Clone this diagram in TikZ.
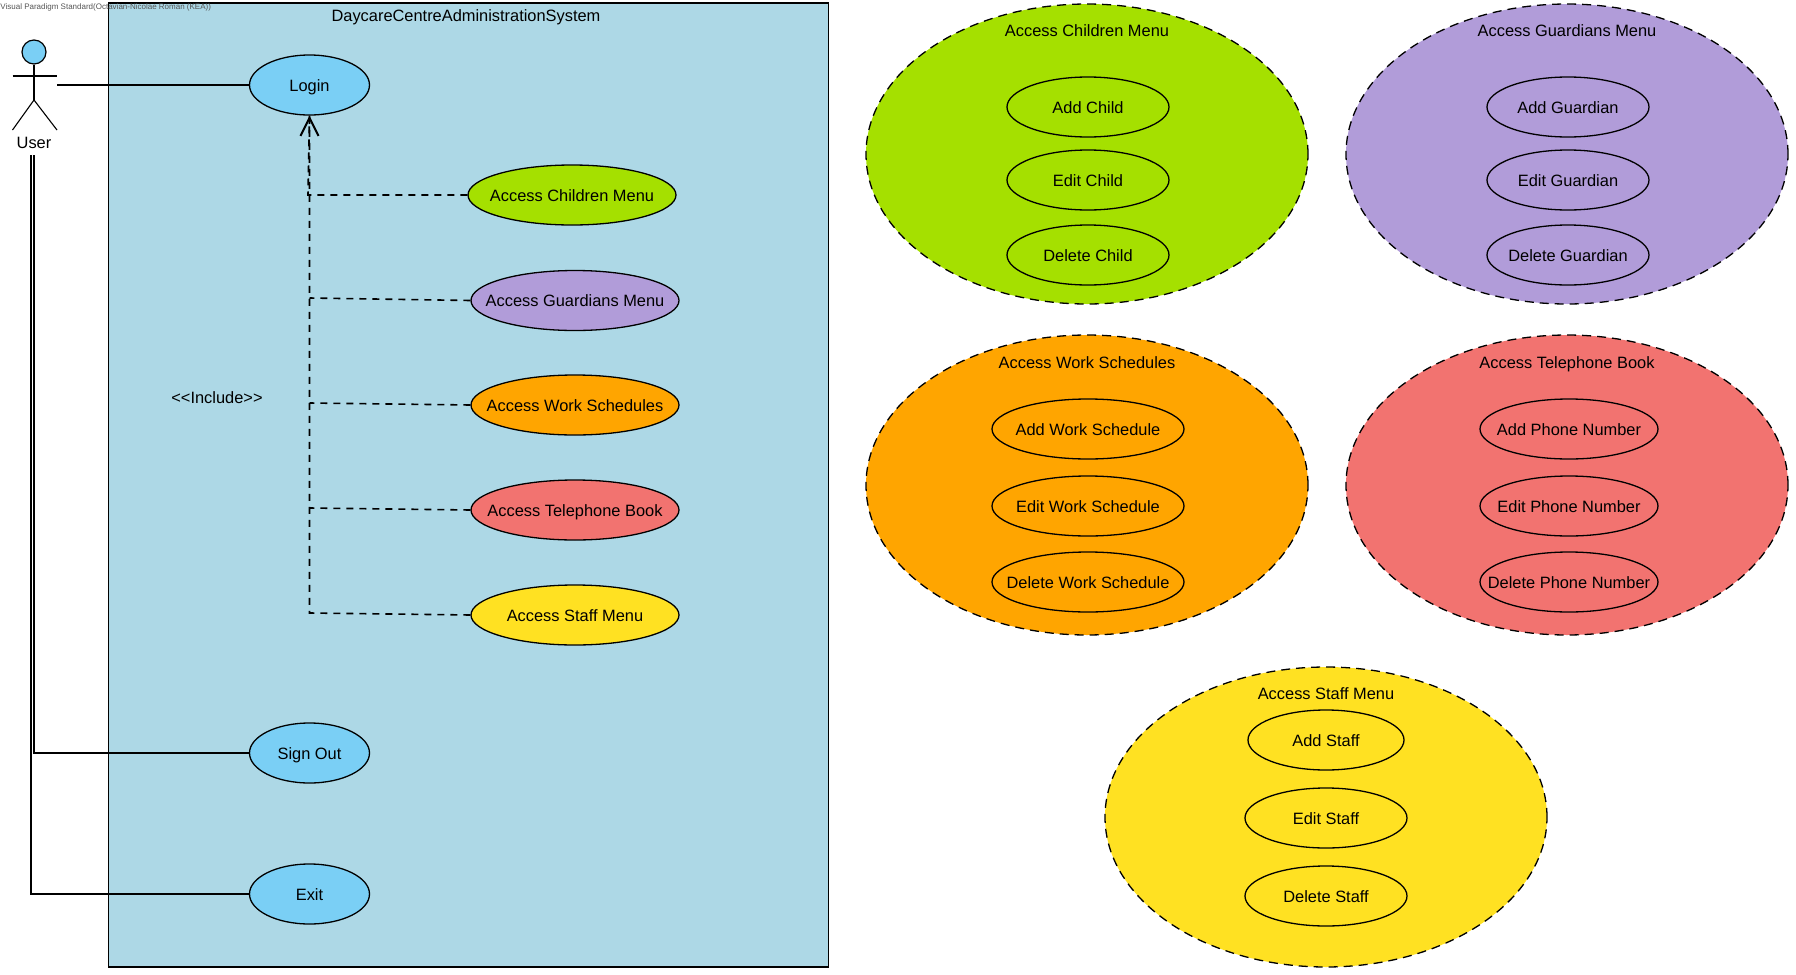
\documentclass[tikz,border=0pt]{standalone}
\usepackage{fontspec}
\setmainfont{Liberation Sans}
\usetikzlibrary{arrows.meta, positioning, shapes.geometric}
\definecolor{sysblue}{HTML}{ADD8E6}
\definecolor{caseblue}{HTML}{7ACFF5}
\definecolor{childgreen}{HTML}{A5E000}
\definecolor{guardpurple}{HTML}{B19CD9}
\definecolor{workorange}{HTML}{FFA500}
\definecolor{phonered}{HTML}{F27370}
\definecolor{staffyellow}{HTML}{FFE122}
\definecolor{notegray}{HTML}{555555}
\newcommand{\lbl}[1]{\makebox[0pt]{\raisebox{-3.1pt}[0pt][0pt]{#1}}}

\begin{document}
\begin{tikzpicture}[x=0.5pt, y=-0.5pt, >=Stealth, font=\fontsize{8.2}{10}\selectfont]
    \tikzset{
      usecase/.style={ellipse, draw=black, line width=0.65pt, inner sep=0pt, minimum height=30pt},
      group/.style={ellipse, draw=black, dashed, dash pattern=on 4.5pt off 3pt, line width=0.65pt, inner sep=0pt, minimum width=221pt, minimum height=150pt},
      assoc/.style={draw=black, line width=0.6pt},
      incl/.style={draw=black, dash pattern=on 3.5pt off 3pt, line width=0.8pt},
      stick/.style={draw=black, line width=0.55pt}
    }
    \useasboundingbox (0,0) rectangle (1796,975);

    \node[draw=black, fill=sysblue, line width=0.65pt, inner sep=0pt, minimum width=360pt, minimum height=482pt] (system) at (468.5,485) {};
    \node (systemtitle) at (466,15) {\lbl{DaycareCentreAdministrationSystem}};
    \node[notegray, font=\fontsize{4}{5}\selectfont, anchor=west, inner sep=0pt] (note) at (0,7) {Visual Paradigm Standard(Octavian-Nicolae Roman (KEA))};

    % actor
    \node[circle, draw=black, fill=caseblue, line width=0.6pt, inner sep=0pt, minimum size=12pt] (head) at (34,52) {};
    \coordinate (hip) at (34,100);
    \coordinate (armL) at (12.5,76);
    \coordinate (armR) at (57,76);
    \coordinate (footL) at (12.5,130);
    \coordinate (footR) at (57,130);
    \draw[stick] (head.south) -- (hip);
    \draw[stick] (armL) -- (armR);
    \draw[stick] (footL) -- (hip) -- (footR);
    \node (user) at (34,142) {\lbl{User}};

    \node[usecase, fill=caseblue, minimum width=60pt] (login) at (309.5,85) {\lbl{Login}};
    \node[usecase, fill=caseblue, minimum width=60pt] (signout) at (309.5,753) {\lbl{Sign Out}};
    \node[usecase, fill=caseblue, minimum width=60pt] (exit) at (309.5,894) {\lbl{Exit}};

    \node[usecase, fill=childgreen, minimum width=104pt] (children) at (572,195) {\lbl{Access Children Menu}};
    \node[usecase, fill=guardpurple, minimum width=104pt] (guardians) at (575,300.5) {\lbl{Access Guardians Menu}};
    \node[usecase, fill=workorange, minimum width=104pt] (work) at (575,405) {\lbl{Access Work Schedules}};
    \node[usecase, fill=phonered, minimum width=104pt] (phone) at (575,510) {\lbl{Access Telephone Book}};
    \node[usecase, fill=staffyellow, minimum width=104pt] (staff) at (575,615) {\lbl{Access Staff Menu}};
    \node (include) at (217,397) {\lbl{<{}<Include>{}>}};

    \coordinate (userhand) at (57,85);
    \coordinate (userfootA) at (34,155);
    \coordinate (userfootB) at (31,155);
    \draw[assoc] (userhand) -- (login.west);
    \draw[assoc] (userfootA) |- (signout.west);
    \draw[assoc] (userfootB) |- (exit.west);

    \coordinate (jchildren) at (308,195);
    \coordinate (jguardians) at (309.5,298);
    \coordinate (jwork) at (309.5,403);
    \coordinate (jphone) at (309.5,508);
    \coordinate (jstaff) at (309.5,613);
    \draw[incl] (children.west) -- (jchildren) -- (login.south);
    \draw[incl] (guardians.west) -- (jguardians);
    \draw[incl] (work.west) -- (jwork);
    \draw[incl] (phone.west) -- (jphone);
    \draw[incl, ->, >={Straight Barb[length=9pt, width=9pt, line width=1pt]}] (staff.west) -- (jstaff) -- (login.south);

    % groups
    \node[group, fill=childgreen] (childgroup) at (1087,154) {};
    \node[group, fill=guardpurple] (guardgroup) at (1567,154) {};
    \node[group, fill=workorange] (workgroup) at (1087,485) {};
    \node[group, fill=phonered] (phonegroup) at (1567,485) {};
    \node[group, fill=staffyellow] (staffgroup) at (1326,817) {};

    \node (childtitle) at (1087,30) {\lbl{Access Children Menu}};
    \node[usecase, minimum width=81pt] (addchild) at (1088,107) {\lbl{Add Child}};
    \node[usecase, minimum width=81pt] (editchild) at (1088,180) {\lbl{Edit Child}};
    \node[usecase, minimum width=81pt] (delchild) at (1088,255) {\lbl{Delete Child}};

    \node (guardtitle) at (1567,30) {\lbl{Access Guardians Menu}};
    \node[usecase, minimum width=81pt] (addguard) at (1568,107) {\lbl{Add Guardian}};
    \node[usecase, minimum width=81pt] (editguard) at (1568,180) {\lbl{Edit Guardian}};
    \node[usecase, minimum width=81pt] (delguard) at (1568,255) {\lbl{Delete Guardian}};

    \node (worktitle) at (1087,362) {\lbl{Access Work Schedules}};
    \node[usecase, minimum width=96pt] (addwork) at (1088,429) {\lbl{Add Work Schedule}};
    \node[usecase, minimum width=96pt] (editwork) at (1088,506) {\lbl{Edit Work Schedule}};
    \node[usecase, minimum width=96pt] (delwork) at (1088,582) {\lbl{Delete Work Schedule}};

    \node (phonetitle) at (1567,362) {\lbl{Access Telephone Book}};
    \node[usecase, minimum width=89pt] (addphone) at (1569,429) {\lbl{Add Phone Number}};
    \node[usecase, minimum width=89pt] (editphone) at (1569,506) {\lbl{Edit Phone Number}};
    \node[usecase, minimum width=89pt] (delphone) at (1569,582) {\lbl{Delete Phone Number}};

    \node (stafftitle) at (1326,693) {\lbl{Access Staff Menu}};
    \node[usecase, minimum width=78pt] (addstaff) at (1326,740) {\lbl{Add Staff}};
    \node[usecase, minimum width=81pt] (editstaff) at (1326,818) {\lbl{Edit Staff}};
    \node[usecase, minimum width=81pt] (delstaff) at (1326,896) {\lbl{Delete Staff}};
\end{tikzpicture}
\end{document}
